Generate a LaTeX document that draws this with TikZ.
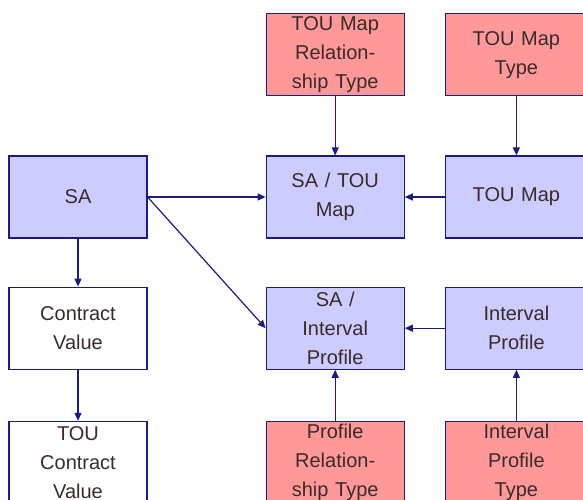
\documentclass[tikz,border=0pt]{standalone}
\usepackage{fontspec}
\setmainfont{Liberation Sans}
\usetikzlibrary{arrows.meta,positioning}
\definecolor{linknavy}{HTML}{1C1C7A}
\definecolor{entblue}{HTML}{CCCCFF}
\definecolor{entred}{HTML}{FF9999}
\definecolor{entink}{HTML}{3A2A2A}
\tikzset{
  entity/.style={
    rectangle,
    draw=linknavy,
    line width=1.2pt,
    align=center,
    text width=134pt,
    minimum width=138pt,
    minimum height=82pt,
    inner sep=0pt,
    text=entink,
    font=\fontsize{20}{29}\selectfont
  },
  mainent/.style={entity, fill=entblue},
  refent/.style={entity, fill=entred},
  plainent/.style={entity, fill=white},
  edgecol/.style={minimum width=142pt},
  link/.style={-{Triangle[length=8pt,width=7pt]},draw=linknavy,line width=1.2pt}
}

\begin{document}
\begin{tikzpicture}[node distance=48pt and 118pt]
  \useasboundingbox (0pt,0pt) rectangle (583pt,-499pt);
  \clip (0pt,0pt) rectangle (583pt,-499pt);
  \node[mainent] (sa) at (78pt,-197pt) {SA};
  \node[mainent, right=118pt of sa] (satoumap) {SA / TOU\\Map};
  \node[mainent, edgecol, right=40pt of satoumap] (toumap) {TOU Map};
  \node[refent, above=59pt of satoumap] (maprel) {TOU Map\\Relation-\\ship Type};
  \node[refent, edgecol, above=59pt of toumap] (maptype) {TOU Map\\Type};
  \node[plainent, below=of sa] (contract) {Contract\\Value};
  \node[mainent, below=of satoumap] (saprofile) {SA /\\Interval\\Profile};
  \node[mainent, edgecol, below=of toumap] (intprofile) {Interval\\Profile};
  \node[plainent, below=51pt of contract] (toucontract) {TOU\\Contract\\Value};
  \node[refent, below=51pt of saprofile] (profrel) {Profile\\Relation-\\ship Type};
  \node[refent, edgecol, below=51pt of intprofile] (proftype) {Interval\\Profile\\Type};
  \draw[link] (maprel) -- (satoumap);
  \draw[link] (maptype) -- (toumap);
  \draw[link] (sa) -- (satoumap);
  \draw[link] (toumap) -- (satoumap);
  \draw[link] (sa.east) -- (saprofile.west);
  \draw[link] (sa) -- (contract);
  \draw[link] (contract) -- (toucontract);
  \draw[link] (intprofile) -- (saprofile);
  \draw[link] (profrel) -- (saprofile);
  \draw[link] (proftype) -- (intprofile);
\end{tikzpicture}
\end{document}
